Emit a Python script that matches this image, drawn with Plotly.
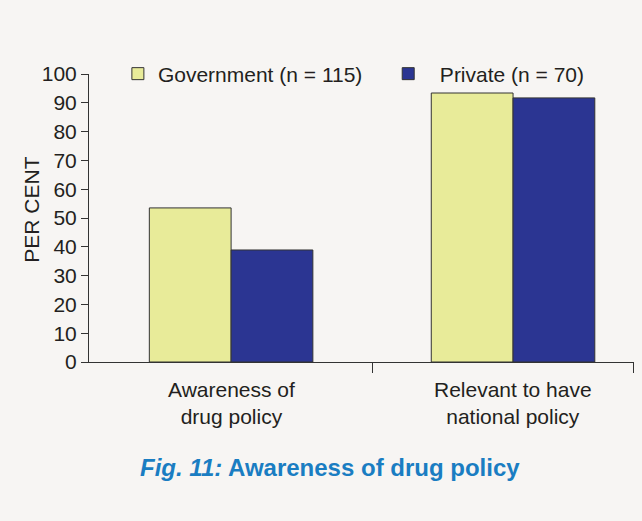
import plotly.graph_objects as go

categories = ["Awareness of<br>drug policy", "Relevant to have<br>national policy"]
government = [53.5, 93.4]
private = [38.9, 91.7]
series_names = ["Government (n = 115)", "\u00a0\u00a0Private (n = 70)"]
y_ticks = [0, 10, 20, 30, 40, 50, 60, 70, 80, 90, 100]

FONT = "Liberation Sans, Arial, sans-serif"
TXT = "#231f20"
BG = "#f7f5f3"

xpos = list(range(len(categories)))

fig = go.Figure()
fig.add_trace(go.Bar(x=xpos, y=government, name=series_names[0], legend="legend",
                     marker=dict(color="#e8eb99", line=dict(color="#333333", width=1))))
fig.add_trace(go.Bar(x=xpos, y=private, name=series_names[1], legend="legend2",
                     marker=dict(color="#2b3592", line=dict(color="#333333", width=1))))

for i, c in enumerate(categories):
    fig.add_annotation(x=xpos[i], xref="x", y=-0.05, yref="paper", yanchor="top",
                       text=c, showarrow=False, font=dict(family=FONT, size=21, color=TXT))

fig.add_annotation(x=0.442, xref="paper", y=-0.368, yref="paper", yanchor="middle",
                   text="<b><i>Fig. 11:</i> Awareness of drug policy</b>", showarrow=False,
                   font=dict(family=FONT, size=24, color="#1a7dc2"))

fig.add_annotation(x=-0.105, xref="paper", y=0.528, yref="paper", xanchor="center",
                   yanchor="middle", textangle=-90, text="PER CENT", showarrow=False,
                   font=dict(family=FONT, size=21, color=TXT))

leg_common = dict(orientation="h", y=1.0, yanchor="middle", xanchor="left",
                  bgcolor="rgba(0,0,0,0)", font=dict(family=FONT, size=21, color=TXT))

fig.update_layout(
    width=642, height=521,
    margin=dict(l=89, r=8, t=74, b=159),
    paper_bgcolor=BG, plot_bgcolor=BG,
    barmode="group", bargap=0.42, bargroupgap=0,
    font=dict(family=FONT, size=21, color=TXT),
    showlegend=True,
    legend=dict(x=0.053, **leg_common),
    legend2=dict(x=0.549, **leg_common),
    xaxis=dict(range=[-0.504, 1.429], tickvals=[0.5, 1.428], ticks="outside", ticklen=10,
               tickcolor="#333333", showticklabels=False, showline=True, linecolor="#333333",
               linewidth=1, showgrid=False, zeroline=False, fixedrange=True),
    yaxis=dict(range=[0, 100], tickvals=y_ticks, ticks="outside", ticklen=7,
               tickcolor="#333333", showline=True, linecolor="#333333", linewidth=1,
               showgrid=False, zeroline=False, tickfont=dict(family=FONT, size=21, color=TXT)),
)

fig.write_html("out.html")
